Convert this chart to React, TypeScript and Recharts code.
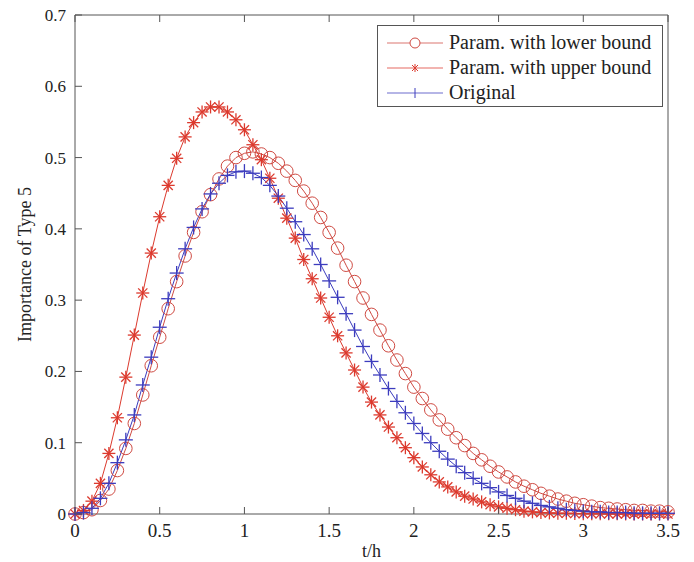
import React from 'react';
import { LineChart, Line, XAxis, YAxis } from 'recharts';

// time axis (h), one sample every 0.05 h
const hours = [
  0, 0.05, 0.1, 0.15, 0.2, 0.25, 0.3, 0.35, 0.4, 0.45,
  0.5, 0.55, 0.6, 0.65, 0.7, 0.75, 0.8, 0.85, 0.9, 0.95,
  1.0, 1.05, 1.1, 1.15, 1.2, 1.25, 1.3, 1.35, 1.4, 1.45,
  1.5, 1.55, 1.6, 1.65, 1.7, 1.75, 1.8, 1.85, 1.9, 1.95,
  2.0, 2.05, 2.1, 2.15, 2.2, 2.25, 2.3, 2.35, 2.4, 2.45,
  2.5, 2.55, 2.6, 2.65, 2.7, 2.75, 2.8, 2.85, 2.9, 2.95,
  3.0, 3.05, 3.1, 3.15, 3.2, 3.25, 3.3, 3.35, 3.4, 3.45,
  3.5,
];

const lowerBound = [
  0, 0.002, 0.006, 0.019, 0.035, 0.061, 0.092, 0.127, 0.167, 0.208,
  0.248, 0.288, 0.326, 0.362, 0.395, 0.424, 0.448, 0.47, 0.488, 0.5,
  0.506, 0.508, 0.505, 0.5, 0.492, 0.481, 0.468, 0.453, 0.436, 0.416,
  0.395, 0.373, 0.349, 0.326, 0.303, 0.28, 0.258, 0.236, 0.216, 0.197,
  0.178, 0.162, 0.146, 0.132, 0.119, 0.107, 0.096, 0.085, 0.076, 0.067,
  0.059, 0.052, 0.045, 0.039, 0.034, 0.029, 0.025, 0.021, 0.018, 0.015,
  0.013, 0.011, 0.009, 0.008, 0.007, 0.006, 0.005, 0.005, 0.004, 0.004,
  0.003,
];

const upperBound = [
  0, 0.005, 0.018, 0.043, 0.085, 0.135, 0.192, 0.251, 0.31, 0.366,
  0.417, 0.461, 0.499, 0.529, 0.549, 0.564, 0.571, 0.571, 0.564, 0.553,
  0.539, 0.518, 0.497, 0.471, 0.443, 0.415, 0.387, 0.357, 0.33, 0.303,
  0.276, 0.25, 0.226, 0.202, 0.178, 0.157, 0.139, 0.122, 0.107, 0.093,
  0.079, 0.066, 0.055, 0.045, 0.038, 0.031, 0.025, 0.021, 0.017, 0.013,
  0.01, 0.008, 0.006, 0.004, 0.003, 0.002, 0.0015, 0.001, 0.001, 0.0007,
  0.0005, 0.0004, 0.0003, 0.0002, 0.0002, 0.0001, 0.0001, 0.0001, 0, 0,
  0,
];

const original = [
  0, 0.002, 0.008, 0.022, 0.043, 0.072, 0.104, 0.139, 0.181, 0.22,
  0.262, 0.302, 0.338, 0.372, 0.402, 0.428, 0.449, 0.464, 0.475, 0.48,
  0.481, 0.478, 0.472, 0.461, 0.446, 0.429, 0.41, 0.392, 0.372, 0.35,
  0.327, 0.304, 0.281, 0.258, 0.235, 0.214, 0.195, 0.176, 0.158, 0.142,
  0.127, 0.113, 0.1, 0.088, 0.077, 0.067, 0.058, 0.05, 0.043, 0.037,
  0.031, 0.026, 0.022, 0.018, 0.015, 0.012, 0.01, 0.008, 0.006, 0.005,
  0.004, 0.003, 0.003, 0.002, 0.002, 0.002, 0.001, 0.001, 0.001, 0.001,
  0.001,
];

const xTicks = [0, 0.5, 1, 1.5, 2, 2.5, 3, 3.5];
const yTicks = [0, 0.1, 0.2, 0.3, 0.4, 0.5, 0.6, 0.7];

const RED_O = '#cf4a42';
const RED_STAR = '#dc3a2e';
const BLUE = '#3c3cbe';
const AXIS = '#555';
const TEXT = '#222';
const FONT = '"Liberation Serif", "Times New Roman", serif';
const TICK_LEN = 7;

const data = hours.map((t, i) => ({
  t,
  lower: lowerBound[i],
  upper: upperBound[i],
  orig: original[i],
}));

const CircleDot = (props: any) => {
  const { cx, cy, key } = props;
  if (cx == null || cy == null) return <g key={key} />;
  return <circle key={key} cx={cx} cy={cy} r={6.3} fill="none" stroke={RED_O} strokeWidth={1} />;
};

const StarDot = (props: any) => {
  const { cx, cy, key } = props;
  if (cx == null || cy == null) return <g key={key} />;
  const s = 6.5;
  const d = 4.6;
  return (
    <g key={key} stroke={RED_STAR} strokeWidth={1.3}>
      <line x1={cx - s} y1={cy} x2={cx + s} y2={cy} />
      <line x1={cx} y1={cy - s} x2={cx} y2={cy + s} />
      <line x1={cx - d} y1={cy - d} x2={cx + d} y2={cy + d} />
      <line x1={cx - d} y1={cy + d} x2={cx + d} y2={cy - d} />
    </g>
  );
};

const PlusDot = (props: any) => {
  const { cx, cy, key } = props;
  if (cx == null || cy == null) return <g key={key} />;
  const s = 7;
  return (
    <g key={key} stroke={BLUE} strokeWidth={1.3}>
      <line x1={cx - s} y1={cy} x2={cx + s} y2={cy} />
      <line x1={cx} y1={cy - s} x2={cx} y2={cy + s} />
    </g>
  );
};

// inward MATLAB-style ticks, drawn from the label anchor back to the axis line
const X_MARGIN = 8;
const Y_MARGIN = 9;

const BottomTick = (props: any) => {
  const { x, y, payload } = props;
  const axisY = y - X_MARGIN;
  return (
    <g>
      <line x1={x} y1={axisY} x2={x} y2={axisY - TICK_LEN} stroke={AXIS} />
      <text x={x} y={y} dy="0.78em" textAnchor="middle" fontFamily={FONT} fontSize={19} fill={TEXT}>
        {payload.value}
      </text>
    </g>
  );
};

const TopTick = (props: any) => {
  const { x, y } = props;
  const axisY = y + X_MARGIN;
  return <line x1={x} y1={axisY} x2={x} y2={axisY + TICK_LEN} stroke={AXIS} />;
};

const LeftTick = (props: any) => {
  const { x, y, payload } = props;
  const axisX = x + Y_MARGIN;
  return (
    <g>
      <line x1={axisX} y1={y} x2={axisX + TICK_LEN} y2={y} stroke={AXIS} />
      <text x={x} y={y} dy="0.35em" textAnchor="end" fontFamily={FONT} fontSize={17} fill={TEXT}>
        {payload.value}
      </text>
    </g>
  );
};

const RightTick = (props: any) => {
  const { x, y } = props;
  const axisX = x - Y_MARGIN;
  return <line x1={axisX} y1={y} x2={axisX - TICK_LEN} y2={y} stroke={AXIS} />;
};

const legendRows = [
  { label: 'Param. with lower bound', color: RED_O, marker: 'o' },
  { label: 'Param. with upper bound', color: RED_STAR, marker: '*' },
  { label: 'Original', color: BLUE, marker: '+' },
];

const LegendBox = () => (
  <div
    style={{
      position: 'absolute',
      left: 377,
      top: 25,
      border: `1px solid ${AXIS}`,
      background: '#fff',
      width: 286,
      height: 82,
      boxSizing: 'border-box',
      padding: '4px 0 0 9px',
      fontFamily: FONT,
      fontSize: 20,
      lineHeight: '25px',
      color: TEXT,
    }}
  >
    {legendRows.map((r) => (
      <div key={r.label} style={{ display: 'flex', alignItems: 'center', height: 25 }}>
        <svg width={56} height={16} style={{ marginRight: 6 }}>
          <line x1={0} y1={8} x2={56} y2={8} stroke={r.color} strokeOpacity={0.75} strokeWidth={1.2} />
          {r.marker === 'o' && <circle cx={28} cy={8} r={5} fill="#fff" stroke={r.color} />}
          {r.marker === '*' && (
            <g stroke={r.color}>
              <line x1={28} y1={4} x2={28} y2={12} />
              <line x1={25} y1={5} x2={31} y2={11} />
              <line x1={25} y1={11} x2={31} y2={5} />
            </g>
          )}
          {r.marker === '+' && <line x1={28} y1={3} x2={28} y2={13} stroke={r.color} />}
        </svg>
        <span>{r.label}</span>
      </div>
    ))}
  </div>
);

export default function App() {
  return (
    <div style={{ position: 'absolute', left: 0, top: 0, width: 694, height: 562, background: '#fff' }}>
      <LineChart
        width={694}
        height={562}
        data={data}
        margin={{ top: 14, right: 25, left: 15, bottom: 0 }}
      >
        <XAxis
          xAxisId="b"
          dataKey="t"
          type="number"
          domain={[0, 3.5]}
          ticks={xTicks}
          height={48}
          stroke={AXIS}
          tickLine={false}
          tickSize={0}
          tickMargin={X_MARGIN}
          tick={BottomTick}
          label={{ value: 't/h', position: 'insideBottom', offset: 5, style: { fontFamily: FONT, fontSize: 18, fill: TEXT } }}
        />
        <XAxis
          xAxisId="t"
          orientation="top"
          dataKey="t"
          type="number"
          domain={[0, 3.5]}
          ticks={xTicks}
          height={1}
          stroke={AXIS}
          tickLine={false}
          tickSize={0}
          tickMargin={X_MARGIN}
          tick={TopTick}
        />
        <YAxis
          yAxisId="l"
          type="number"
          domain={[0, 0.7]}
          ticks={yTicks}
          width={60}
          stroke={AXIS}
          tickLine={false}
          tickSize={0}
          tickMargin={Y_MARGIN}
          tick={LeftTick}
          label={{
            value: 'Importance of Type 5',
            angle: -90,
            position: 'insideLeft',
            offset: 10,
            style: { fontFamily: FONT, fontSize: 18, fill: TEXT, textAnchor: 'middle' },
          }}
        />
        <YAxis
          yAxisId="r"
          orientation="right"
          type="number"
          domain={[0, 0.7]}
          ticks={yTicks}
          width={1}
          stroke={AXIS}
          tickLine={false}
          tickSize={0}
          tickMargin={Y_MARGIN}
          tick={RightTick}
        />
        <Line
          xAxisId="b"
          yAxisId="l"
          type="linear"
          dataKey="lower"
          stroke={RED_O}
          strokeWidth={1}
          dot={CircleDot}
          activeDot={false}
          isAnimationActive={false}
        />
        <Line
          xAxisId="b"
          yAxisId="l"
          type="linear"
          dataKey="upper"
          stroke={RED_STAR}
          strokeWidth={1}
          dot={StarDot}
          activeDot={false}
          isAnimationActive={false}
        />
        <Line
          xAxisId="b"
          yAxisId="l"
          type="linear"
          dataKey="orig"
          stroke={BLUE}
          strokeWidth={1}
          dot={PlusDot}
          activeDot={false}
          isAnimationActive={false}
        />
      </LineChart>
      <LegendBox />
    </div>
  );
}
